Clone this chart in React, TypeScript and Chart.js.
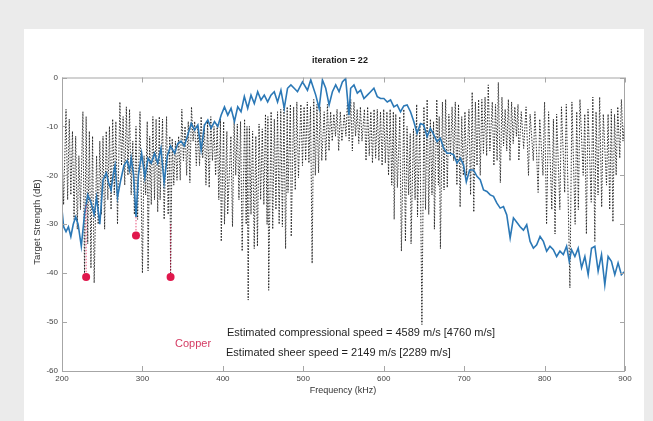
import React, { useEffect, useRef } from "react";
import { Chart, registerables } from "chart.js";

Chart.register(...registerables);

// ---- data ----
const xMin = 200;
const xMax = 900;
const xStep = 100;
const yMin = -60;
const yMax = 0;
const yStep = 10;

const titleText = "iteration = 22";
const xTitle = "Frequency (kHz)";
const yTitle = "Target Strength (dB)";
const materialLabel = "Copper";
const noteLines = [
  "Estimated compressional speed = 4589 m/s [4760 m/s]",
  "Estimated sheer speed = 2149 m/s [2289 m/s]",
];

// measured target strength (blue, solid)
const blueFreq = [
  200, 202, 205, 208, 211, 214, 217, 220, 224, 228, 232, 236, 240, 243, 247, 251, 255, 258, 261, 264,
  266, 269, 273, 277, 281, 284, 286, 289, 292, 295, 299, 303, 307, 311, 315, 319, 323, 327, 331, 335,
  340, 344, 348, 352, 356.5, 360.7, 364.8, 368.9, 373, 377.2, 381.3, 385.4, 389.6, 393.7, 397.8, 402, 406.1, 410.2, 414.4, 418.5,
  422.6, 426.7, 430.9, 435, 439.1, 443.3, 447.4, 451.5, 455.7, 459.8, 463.9, 468, 472.2, 476.3, 480.4, 484.6, 488.7, 492.8, 499, 505.2,
  509.3, 515.5, 519.7, 523.8, 527.9, 532.1, 536.2, 540.3, 544.5, 548.6, 552.7, 556.8, 558.9, 563, 567.2, 571.3, 575.4, 579.6, 583.7, 587.8,
  592, 596.1, 600.2, 604.4, 608.5, 612.6, 616.7, 620.9, 625, 629.1, 633.3, 637.4, 641.5, 645.7, 649.8, 653.9, 658, 662.2, 666.3, 670.4,
  674.6, 678.7, 682.8, 687, 691.1, 695.2, 699.3, 702.7, 706.8, 711.7, 715.9, 720, 724.1, 728.3, 732.4, 736.5, 740.7, 744.8, 748.9, 753,
  757.2, 761.3, 765.4, 769.6, 773.7, 777.8, 782, 786.1, 790.2, 794.4, 798.5, 802.6, 806.7, 810.9, 815, 819.1, 823.3, 827.4, 830.7, 833.6,
  837.7, 841.8, 846, 850.1, 854.2, 858.4, 862.5, 866.6, 870.8, 874.9, 879, 883.1, 887.3, 891.4, 895.5, 900,
];
const blueDb = [
  -27, -30.5, -31.5, -30.5, -32.5, -30, -28.5, -30, -34.5, -28, -24, -25.5, -28, -24.5, -30, -21, -19.5, -21.5, -23, -19.5,
  -18, -24.5, -21, -18, -17, -19, -16.5, -20, -28.5, -20, -15.5, -20.5, -16.5, -17.5, -15.5, -17.5, -14.5, -21.5, -16, -14,
  -15.5, -13.5, -13, -14, -11.7, -9.4, -10.7, -9.7, -14.8, -9.7, -8.7, -10.4, -9, -10, -7.7, -6, -7.7, -6.3, -9, -6,
  -7, -3.9, -6.3, -3.6, -5.3, -2.9, -4.6, -3.6, -5, -3.6, -2.9, -5, -2.6, -6.3, -2.2, -1.5, -2.2, -2.9, -0.9, -2.6,
  -0.5, -3.6, -6.3, -0.5, -2.2, -5.6, -2.9, -1.5, -2.9, -0.9, -0.2, -7.7, -2.2, -1.5, -3.2, -2.6, -4.3, -3.6, -2.9, -2.2,
  -3.9, -4.3, -4.3, -5, -4.6, -6, -5.6, -7, -5.8, -5.6, -7, -9, -11.4, -9.4, -9.7, -12.1, -10.4, -11.7, -13.1, -12.4,
  -14.5, -15.5, -15.5, -15.8, -17.5, -16.5, -17.9, -21.3, -18.9, -18.9, -20.2, -20.9, -23, -23.3, -24, -24.3, -25.7, -26.7, -26.4, -28.1,
  -32.8, -28.7, -29.6, -30.5, -31.2, -30.1, -33.5, -34.9, -34.2, -32.5, -33.5, -35.5, -34.5, -35.2, -36.6, -35.5, -36.2, -34.5, -37.6, -35.2,
  -36.6, -34.9, -38.9, -36.6, -40.3, -34.9, -34.5, -39.6, -36.2, -42.4, -36.6, -37.6, -40.3, -37.9, -40.3, -39.6,
];

// modelled target strength (black, dotted)
const blackFreq = [
  200, 202, 205, 207, 209, 211, 213, 215, 217, 219, 221, 223, 226, 228, 230, 232, 234, 236, 238, 240,
  243, 245, 247, 249, 251, 253, 255, 257, 259, 261, 263, 265, 267, 269, 272, 274, 276, 278, 280, 282,
  284, 286, 288, 290, 292, 294, 297, 300, 302, 304, 306, 307, 309, 311, 313, 315, 317, 319, 321, 322,
  325, 327, 330, 332, 334, 335, 337, 339, 341, 343,
  345, 347, 349, 351, 353, 355, 357, 359, 361, 363, 365, 367, 369, 371, 373, 375, 377, 379, 381, 383,
  385, 387, 389, 391, 393, 395, 397, 398, 401, 402, 405, 406, 410, 412, 414, 416, 418, 420, 422, 424,
  427, 429, 430, 431.5, 433, 435, 437, 439, 441, 443, 445, 447, 449, 451, 453, 455, 456, 457, 460, 462,
  464, 466, 468, 470, 472, 474, 476, 478, 480, 481,
  484, 485, 488, 490, 492, 494, 497, 499, 501, 503, 505, 507, 509, 511, 513, 515, 517, 519, 521, 523,
  526, 528, 530, 532, 534, 536, 538, 540, 542, 544, 546, 548, 551, 553, 555, 557, 559, 561, 563, 565,
  567, 569, 571, 573, 576, 578, 580, 582, 584, 586, 588, 590, 592, 594, 596, 598, 600, 602, 604, 606,
  608, 610, 612, 613, 615, 617, 620, 622,
  625, 627, 629, 631, 633, 634, 637, 639, 641, 642, 645, 647.5, 650, 652, 654, 656, 658, 660, 662, 663,
  666, 668, 669, 670.5, 673, 675, 677, 679, 681, 683, 685, 687, 689, 691, 693, 695, 697, 699, 701, 703,
  706, 708, 710, 712, 714, 716, 718, 720, 722, 724, 726, 728, 730, 732, 735, 737, 739, 741, 742.5, 745,
  747, 749, 751, 753, 755, 757, 759, 761, 763, 765,
  767, 768, 771, 774, 777, 780, 782, 786, 788, 792, 794, 798, 800, 802.5, 805, 809, 811, 813, 815, 819,
  821, 825, 827, 831.5, 834, 838, 840, 842, 844, 848, 850, 852, 854, 858, 860, 862.5, 864, 866.5, 868.5, 871,
  873, 877, 879, 881, 883, 885, 887, 889, 891, 893.5, 895.5, 897.5, 900,
];
const blackDb = [
  -14, -26, -6.5, -25, -8.5, -24, -11, -29, -12, -31, -16, -27, -7, -40, -8, -34, -11, -39, -12, -42,
  -16, -30, -13, -28, -12, -31, -11, -25, -10, -27, -8.5, -24, -9, -30, -5, -18, -8, -22, -6, -20,
  -6.5, -24, -13, -28, -10, -29, -7, -40, -16, -24, -9, -39.5, -12, -26, -8, -25, -8.5, -27.5, -8, -25,
  -8.5, -29, -8, -28, -12, -40.5, -12.5, -22, -13, -21,
  -12, -21, -6.5, -17, -10, -20, -9, -21.5, -6, -13, -9, -18, -10, -18, -8, -16.5, -9.5, -22, -9, -22.5,
  -8, -17, -10, -20, -9.5, -25, -8.5, -33.5, -9, -30, -11, -28, -12, -30.5, -9, -20, -9.5, -25, -9, -35.5,
  -8.5, -30, -10, -45.5, -10, -28, -11, -35, -12, -34.5, -9.5, -25, -10.5, -26, -7.5, -30, -8, -43.5, -7, -31,
  -8.5, -27, -7, -30, -6.5, -30.5, -6, -35, -6, -23.5,
  -5.5, -32.5, -6, -23, -5, -20.5, -5.5, -18, -6, -17, -5, -17.5, -6, -38, -4.5, -20, -5.5, -19.5, -6, -17,
  -7, -17, -5.5, -15, -7, -13, -7.5, -12, -6.5, -15, -7, -13, -7.5, -12, -4.5, -13, -4.5, -15, -5, -12,
  -6.5, -13.5, -6, -13, -6.5, -17, -6, -16, -7, -17.5, -6.5, -16.5, -6.5, -17, -7, -18, -6.5, -17.5, -7, -20,
  -6.5, -22, -7, -29, -7.5, -22.5, -8, -35.5,
  -6.5, -33.5, -10, -24, -11.5, -34, -10.5, -25, -5.5, -28.5, -9.5, -50.5, -6, -27, -4.5, -28, -8.5, -24, -9, -31,
  -4.5, -22, -8, -35, -5, -23, -4.5, -22.5, -7.5, -16, -6, -17, -5, -22, -5.5, -26.5, -8, -20, -7, -20,
  -6.5, -24, -3, -27.5, -5, -18, -4.5, -20, -4.5, -15.5, -4, -16, -1.5, -15, -5, -18, -5.5, -17, -1, -21.5,
  -4, -14, -6.5, -15, -4.5, -17, -5, -13.5, -6, -12,
  -5.5, -17, -7, -14.5, -6, -20, -7.5, -17, -7, -23.5, -8.5, -20, -5, -30, -7, -27, -8.5, -32, -7.5, -27,
  -6, -23.5, -5.5, -43, -5, -30, -7, -27, -4.5, -20, -7.5, -32, -6.5, -25.5, -4, -33.5, -7, -24, -4, -26.5,
  -7.5, -22, -7.5, -27, -6.5, -29.5, -7.5, -20, -6, -16.5, -4.5, -13, -8,
];

// picked resonance minima (red markers)
const dotFreq = [230, 292, 335];
const dotDb = [-40.8, -32.3, -40.8];
const stemTopDb = [-26, -28.5, -30];

const FONT = "'Liberation Sans', Arial, Helvetica, sans-serif";
const AXIS_COLOR = "#a6a6a6";
const RED = "#e0174c";

const decorPlugin = {
  id: "decor",
  afterDatasetsDraw(chart: any) {
    const { ctx, chartArea: a, scales } = chart;
    const xs = scales.x;
    const ys = scales.y;
    ctx.save();
    // box
    ctx.strokeStyle = AXIS_COLOR;
    ctx.lineWidth = 1;
    ctx.strokeRect(a.left + 0.5, a.top + 0.5, a.right - a.left - 1, a.bottom - a.top);
    // inward ticks
    const tl = 5;
    ctx.beginPath();
    xs.ticks.forEach((t: any) => {
      const px = Math.round(xs.getPixelForValue(t.value)) + 0.5;
      ctx.moveTo(px, a.bottom);
      ctx.lineTo(px, a.bottom - tl);
      ctx.moveTo(px, a.top);
      ctx.lineTo(px, a.top + tl);
    });
    ys.ticks.forEach((t: any) => {
      const py = Math.round(ys.getPixelForValue(t.value)) + 0.5;
      ctx.moveTo(a.left, py);
      ctx.lineTo(a.left + tl, py);
      ctx.moveTo(a.right, py);
      ctx.lineTo(a.right - tl, py);
    });
    ctx.stroke();

    // title
    ctx.fillStyle = "#1a1a1a";
    ctx.textAlign = "center";
    ctx.textBaseline = "middle";
    ctx.font = `bold 9px ${FONT}`;
    ctx.fillText(titleText, 340, 61);
    // x title
    ctx.fillStyle = "#333";
    ctx.font = `9px ${FONT}`;
    ctx.fillText(xTitle, 343, 391);
    // y title
    ctx.save();
    ctx.translate(37, 222);
    ctx.rotate(-Math.PI / 2);
    ctx.font = `9.5px ${FONT}`;
    ctx.fillText(yTitle, 0, 0);
    ctx.restore();
    // notes
    ctx.textAlign = "left";
    ctx.font = `11px ${FONT}`;
    ctx.fillStyle = "#1f1f1f";
    ctx.fillText(noteLines[0], 227, 333);
    ctx.fillText(noteLines[1], 226, 353);
    ctx.fillStyle = "#d43a62";
    ctx.fillText(materialLabel, 175, 344);
    ctx.restore();
  },
};

export default function App() {
  const ref = useRef<HTMLCanvasElement | null>(null);

  useEffect(() => {
    if (!ref.current) return;
    const blue = blueFreq.map((f, i) => ({ x: f, y: blueDb[i] }));
    const black = blackFreq.map((f, i) => ({ x: f, y: blackDb[i] }));
    const dots = dotFreq.map((f, i) => ({ x: f, y: dotDb[i] }));
    const stems = dotFreq.map((f, i) => ({
      type: "line" as const,
      data: [
        { x: f, y: stemTopDb[i] },
        { x: f, y: dotDb[i] },
      ],
      borderColor: "rgba(224,23,76,0.75)",
      borderWidth: 1,
      borderDash: [1.5, 1.5],
      pointRadius: 0,
    }));

    const chart = new Chart(ref.current, {
      type: "line",
      data: {
        datasets: [
          {
            data: dots,
            showLine: false,
            pointRadius: 4,
            pointBackgroundColor: RED,
            pointBorderColor: RED,
            pointBorderWidth: 0,
          } as any,
          ...stems,
          {
            data: blue,
            borderColor: "#2b78b6",
            borderWidth: 1.6,
            pointRadius: 0,
            tension: 0,
          },
          {
            data: black,
            borderColor: "rgba(25,25,25,0.9)",
            borderWidth: 1,
            borderDash: [1.5, 1.5],
            pointRadius: 0,
            tension: 0,
          },
        ],
      },
      options: {
        animation: false,
        responsive: false,
        devicePixelRatio: 1,
        events: [],
        layout: { padding: { left: 40, right: 28, top: 77.5, bottom: 36 } },
        plugins: {
          legend: { display: false },
          tooltip: { enabled: false },
          title: { display: false },
        },
        scales: {
          x: {
            type: "linear",
            min: xMin,
            max: xMax,
            grid: { display: false, drawTicks: false },
            border: { display: false },
            ticks: {
              stepSize: xStep,
              autoSkip: false,
              maxRotation: 0,
              padding: 3,
              color: "#444",
              font: { size: 8, family: FONT },
            },
            afterFit: (s: any) => {
              s.height = 14;
            },
          },
          y: {
            type: "linear",
            min: yMin,
            max: yMax,
            grid: { display: false, drawTicks: false },
            border: { display: false },
            ticks: {
              stepSize: yStep,
              padding: 4,
              color: "#444",
              font: { size: 8, family: FONT },
            },
            afterFit: (s: any) => {
              s.width = 22;
            },
          },
        },
      },
      plugins: [decorPlugin],
    });
    return () => chart.destroy();
  }, []);

  return (
    <div
      style={{
        position: "fixed",
        left: 0,
        top: 0,
        width: 653,
        height: 421,
        background: "#ebebeb",
        overflow: "hidden",
      }}
    >
      <div
        style={{
          position: "absolute",
          left: 24,
          top: 29,
          width: 620,
          height: 392,
          background: "#ffffff",
        }}
      />
      <canvas
        ref={ref}
        width={653}
        height={421}
        style={{ position: "absolute", left: 0, top: 0, width: 653, height: 421 }}
      />
    </div>
  );
}
